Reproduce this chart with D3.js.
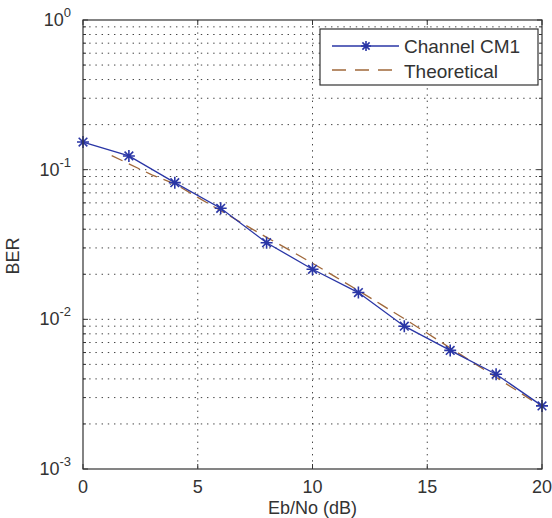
<!DOCTYPE html>
<html>
<head>
<meta charset="utf-8">
<script src="https://cdn.jsdelivr.net/npm/d3@7/dist/d3.min.js"></script>
<style>
  html, body { margin: 0; padding: 0; background: #fff; }
  svg { display: block; }
  text { font-family: "Liberation Sans", Arial, Helvetica, sans-serif; fill: #333; }
</style>
</head>
<body>
<svg id="chart" width="552" height="518"></svg>
<script>
// Measured BER of the UWB link over channel model CM1
const snrMeasured = [0, 2, 4, 6, 8, 10, 12, 14, 16, 18, 20];
const berChannel  = [0.153, 0.1235, 0.0819, 0.0552, 0.0325, 0.0216, 0.0151, 0.0090, 0.0062, 0.0043, 0.00264];

// Theoretical BER curve
const snrTheory = [1.25, 2, 3, 4, 5, 6, 7, 8, 9, 10, 11, 12, 13, 14, 15, 16, 17, 18, 19, 20];
const berTheory = [0.1242, 0.1094, 0.0923, 0.0804, 0.0653, 0.0532, 0.0433, 0.0353, 0.0290, 0.0237,
                   0.0192, 0.01556, 0.01253, 0.01009, 0.00807, 0.00644, 0.00514, 0.00410, 0.00327, 0.00260];

// Axis ticks
const xTicks = [0, 5, 10, 15, 20];
const yExponents = [0, -1, -2, -3];
const legendLabels = ["Channel CM1", "Theoretical"];

const svg = d3.select("#chart");
const L = 83, R = 542, T = 20, B = 469;

const x = d3.scaleLinear().domain([0, 20]).range([L, R]);
const y = d3.scaleLog().domain([1e-3, 1]).range([B, T]);

// minor log positions (2..9 in each decade)
const yMinor = [];
for (let e = -3; e < 0; e++) {
  for (let m = 2; m <= 9; m++) yMinor.push(m * Math.pow(10, e));
}
const yMajor = yExponents.map(e => Math.pow(10, e));

const gridColor = "#444";
const dots = "1.4,4.8";

// horizontal grid (major + minor)
const grid = svg.append("g");
grid.selectAll("line.h")
  .data(yMinor.concat(yMajor.filter(v => v > 1e-3 && v < 1)))
  .join("line")
  .attr("x1", L).attr("x2", R)
  .attr("y1", d => y(d)).attr("y2", d => y(d))
  .attr("stroke", gridColor).attr("stroke-width", 1)
  .attr("stroke-dasharray", dots);

// vertical grid
grid.selectAll("line.v")
  .data(xTicks.filter(v => v > 0 && v < 20))
  .join("line")
  .attr("x1", d => x(d)).attr("x2", d => x(d))
  .attr("y1", T).attr("y2", B)
  .attr("stroke", gridColor).attr("stroke-width", 1)
  .attr("stroke-dasharray", dots);

// inner tick marks on all four sides
const ticks = svg.append("g").attr("stroke", "#333").attr("stroke-width", 1);
xTicks.forEach(v => {
  ticks.append("line").attr("x1", x(v)).attr("x2", x(v)).attr("y1", B).attr("y2", B - 5);
  ticks.append("line").attr("x1", x(v)).attr("x2", x(v)).attr("y1", T).attr("y2", T + 5);
});
yMajor.forEach(v => {
  ticks.append("line").attr("x1", L).attr("x2", L + 5).attr("y1", y(v)).attr("y2", y(v));
  ticks.append("line").attr("x1", R).attr("x2", R - 5).attr("y1", y(v)).attr("y2", y(v));
});
yMinor.forEach(v => {
  ticks.append("line").attr("x1", L).attr("x2", L + 3).attr("y1", y(v)).attr("y2", y(v));
  ticks.append("line").attr("x1", R).attr("x2", R - 3).attr("y1", y(v)).attr("y2", y(v));
});

// theoretical curve (dashed)
const lineTheory = d3.line()
  .x((d, i) => x(snrTheory[i]))
  .y(d => y(d));
svg.append("path")
  .datum(berTheory)
  .attr("d", lineTheory)
  .attr("fill", "none")
  .attr("stroke", "#a0683a")
  .attr("stroke-width", 1.3)
  .attr("stroke-dasharray", "12,7");

// measured curve
const lineChannel = d3.line()
  .x((d, i) => x(snrMeasured[i]))
  .y(d => y(d));
const blue = "#2a36a6";
svg.append("path")
  .datum(berChannel)
  .attr("d", lineChannel)
  .attr("fill", "none")
  .attr("stroke", blue)
  .attr("stroke-width", 1.3);

// star markers (plus + cross)
function star(g, cx, cy, r) {
  const s = r * 0.72;
  g.append("path")
    .attr("d", `M${cx - r},${cy}L${cx + r},${cy}M${cx},${cy - r}L${cx},${cy + r}` +
               `M${cx - s},${cy - s}L${cx + s},${cy + s}M${cx - s},${cy + s}L${cx + s},${cy - s}`)
    .attr("stroke", blue).attr("stroke-width", 1.6).attr("fill", "none");
}
const marks = svg.append("g");
berChannel.forEach((v, i) => star(marks, x(snrMeasured[i]), y(v), 6));

// axes box
svg.append("rect")
  .attr("x", L).attr("y", T).attr("width", R - L).attr("height", B - T)
  .attr("fill", "none").attr("stroke", "#333").attr("stroke-width", 1.2);

// x tick labels
svg.append("g").selectAll("text")
  .data(xTicks)
  .join("text")
  .attr("x", d => x(d)).attr("y", B + 24)
  .attr("text-anchor", "middle")
  .attr("font-size", 18)
  .text(d => d);

// y tick labels as 10^n
const yl = svg.append("g");
yExponents.forEach(e => {
  const t = yl.append("text")
    .attr("x", 71).attr("y", y(Math.pow(10, e)) + 6)
    .attr("text-anchor", "end")
    .attr("font-size", 18);
  t.append("tspan").text("10");
  t.append("tspan").attr("dy", -9).attr("font-size", 13).text(String(e));
});

// axis titles
svg.append("text")
  .attr("x", (L + R) / 2).attr("y", 514)
  .attr("text-anchor", "middle")
  .attr("font-size", 18)
  .text("Eb/No (dB)");
svg.append("text")
  .attr("transform", "translate(19,256) rotate(-90)")
  .attr("text-anchor", "middle")
  .attr("font-size", 18)
  .text("BER");

// legend
const lg = svg.append("g");
lg.append("rect")
  .attr("x", 320).attr("y", 29).attr("width", 218).attr("height", 56)
  .attr("fill", "#fff").attr("stroke", "#333").attr("stroke-width", 1.2);
lg.append("line").attr("x1", 332).attr("x2", 399).attr("y1", 46).attr("y2", 46)
  .attr("stroke", blue).attr("stroke-width", 1.3);
star(lg, 366, 46, 5);
lg.append("line").attr("x1", 332).attr("x2", 399).attr("y1", 70).attr("y2", 70)
  .attr("stroke", "#a0683a").attr("stroke-width", 1.3).attr("stroke-dasharray", "14,9");
lg.selectAll("text.lab")
  .data(legendLabels)
  .join("text")
  .attr("x", 404).attr("y", (d, i) => 53 + i * 24.5)
  .attr("font-size", 19)
  .text(d => d);
</script>
</body>
</html>
